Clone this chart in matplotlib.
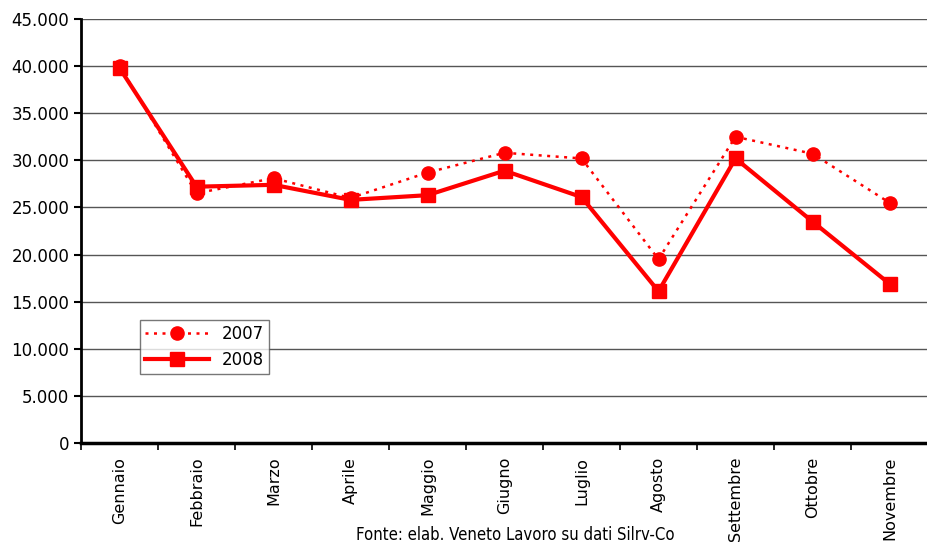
import matplotlib.pyplot as plt
import numpy as np
from matplotlib.ticker import FuncFormatter

mesi = ["Gennaio", "Febbraio", "Marzo", "Aprile", "Maggio", "Giugno",
        "Luglio", "Agosto", "Settembre", "Ottobre", "Novembre"]
v2007 = [40000, 26500, 28100, 26000, 28700, 30800, 30200, 19500, 32500, 30700, 25500]
v2008 = [39800, 27200, 27400, 25800, 26300, 28900, 26100, 16100, 30200, 23500, 16900]

plt.rcParams['font.family'] = 'DejaVu Sans'

fig = plt.figure(figsize=(9.28, 5.52), dpi=100)
ax = fig.add_axes([0.0873, 0.1975, 0.9127, 0.7681])

x = np.arange(len(mesi))
ax.plot(x, v2007, color='red', linestyle=(0, (1.2, 2.2)), linewidth=1.8,
        marker='o', markersize=9.5, label='2007')
ax.plot(x, v2008, color='red', linestyle='-', linewidth=3,
        marker='s', markersize=9.5, label='2008')

ax.set_xlim(-0.5, len(mesi) - 0.5)
ax.set_ylim(0, 45000)
ax.set_yticks(np.arange(0, 45001, 5000))
ax.yaxis.set_major_formatter(FuncFormatter(lambda v, p: f"{int(v):,}".replace(",", ".")))
ax.yaxis.grid(True, color='#555555', linewidth=1)
ax.set_axisbelow(True)

ax.set_xticks(x)
ax.set_xticklabels(mesi, rotation=90, fontsize=11.5)
ax.set_xticks(np.arange(-0.5, len(mesi), 1), minor=True)
ax.tick_params(axis='x', which='major', length=0, pad=10)
ax.tick_params(axis='x', which='minor', length=5, width=1.2, direction='out')
ax.tick_params(axis='y', labelsize=12, length=5, width=1.5, direction='out')

for s in ['top', 'right']:
    ax.spines[s].set_visible(False)
ax.spines['left'].set_linewidth(2)
ax.spines['bottom'].set_linewidth(2.5)

leg = ax.legend(loc='upper left', bbox_to_anchor=(0.06, 0.31), fontsize=12,
                frameon=True, fancybox=False, edgecolor='#555555',
                handlelength=3.8, borderpad=0.3, labelspacing=0.5)
leg.get_frame().set_linewidth(1)

fig.text(0.555, 0.014, "Fonte: elab. Veneto Lavoro su dati Silrv-Co",
         ha='center', va='bottom', fontsize=12, fontstretch='condensed')

fig.savefig('out.png', dpi=100)
